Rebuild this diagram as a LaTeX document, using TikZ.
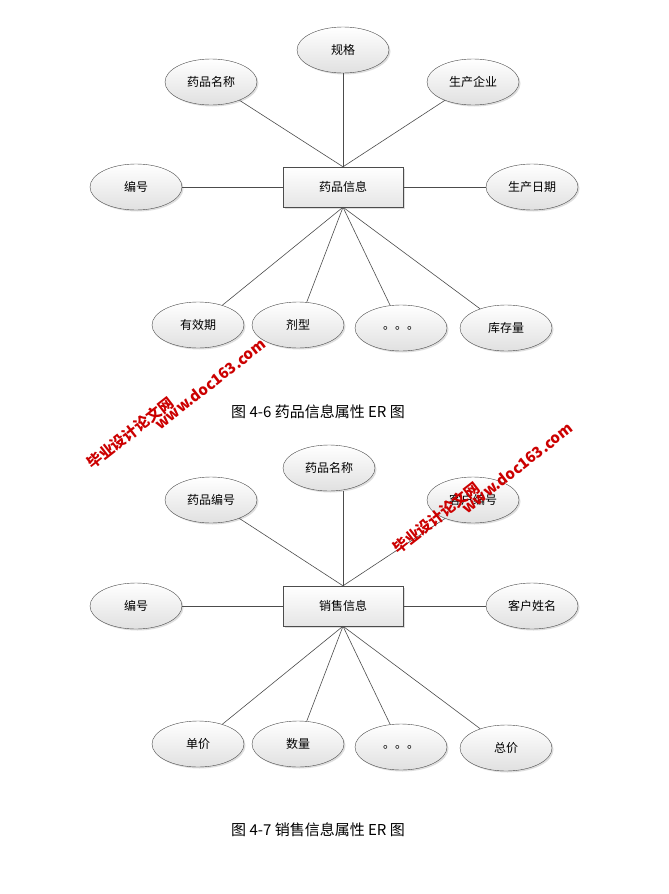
\documentclass[tikz,border=0pt]{standalone}
\usepackage{fontspec}
\setmainfont{Noto Sans CJK SC}
\usetikzlibrary{shapes.geometric,shadows}
\tikzset{
 attr/.style={ellipse,draw=black!70,minimum width=92pt,minimum height=46pt,inner sep=0pt,top color=white,bottom color=black!12,drop shadow={shadow xshift=1.5pt,shadow yshift=-1.5pt,fill=black!25},font=\fontsize{12}{12}\selectfont},
 ent/.style={rectangle,draw=black!70,minimum width=120pt,minimum height=40pt,top color=white,bottom color=black!10,drop shadow={shadow xshift=1.5pt,shadow yshift=-1.5pt,fill=black!25},font=\fontsize{12}{12}\selectfont},
 ln/.style={draw=black!70,line width=0.6pt},
 captext/.style={font=\fontsize{15}{15}\selectfont},
 wm/.style={text=red!80!black,font=\bfseries\fontsize{15}{15}\selectfont,rotate=38}
}
\begin{document}
\begin{tikzpicture}[x=1pt,y=-1pt]
\useasboundingbox[fill=white] (0,0) rectangle (669,894);
% diagram 1
\node[ent] (r1) at (343,187) {药品信息};
\node[attr] (a1) at (211,82) {药品名称};
\node[attr] (a2) at (343,50) {规格};
\node[attr] (a3) at (473,82) {生产企业};
\node[attr] (a4) at (136,187) {编号};
\node[attr] (a5) at (532,187) {生产日期};
\node[attr] (a6) at (198,325) {有效期};
\node[attr] (a7) at (298,325) {剂型};
\node[attr] (a8) at (401,328) {。。。};
\node[attr] (a9) at (506,328) {库存量};
\foreach \n in {a1,a2,a3} \draw[ln] (r1.north) -- (\n);
\foreach \n in {a6,a7,a8,a9} \draw[ln] (r1.south) -- (\n);
\draw[ln] (r1.west) -- (a4); \draw[ln] (r1.east) -- (a5);
\node[captext] (c1) at (318,412) {图 4-6 药品信息属性 ER 图};
% diagram 2
\node[ent] (r2) at (343,606) {销售信息};
\node[attr] (b1) at (211,500) {药品编号};
\node[attr] (b2) at (329,468) {药品名称};
\node[attr] (b3) at (473,500) {客户编号};
\node[attr] (b4) at (136,606) {编号};
\node[attr] (b5) at (532,606) {客户姓名};
\node[attr] (b6) at (198,744) {单价};
\node[attr] (b7) at (298,744) {数量};
\node[attr] (b8) at (401,747) {。。。};
\node[attr] (b9) at (506,748) {总价};
\coordinate (b2e) at (343,490.5);
\draw[ln] (r2.north) -- (b2e);
\foreach \n in {b1,b3} \draw[ln] (r2.north) -- (\n);
\foreach \n in {b6,b7,b8,b9} \draw[ln] (r2.south) -- (\n);
\draw[ln] (r2.west) -- (b4); \draw[ln] (r2.east) -- (b5);
\node[captext] (c2) at (318,830) {图 4-7 销售信息属性 ER 图};
% watermarks
\node[wm] (w1) at (130,433) {毕业设计论文网};
\node[wm] (w2) at (210,384) {www.doc163.com};
\node[wm] (w3) at (436,518) {毕业设计论文网};
\node[wm] (w4) at (517,468) {www.doc163.com};
\end{tikzpicture}
\end{document}
